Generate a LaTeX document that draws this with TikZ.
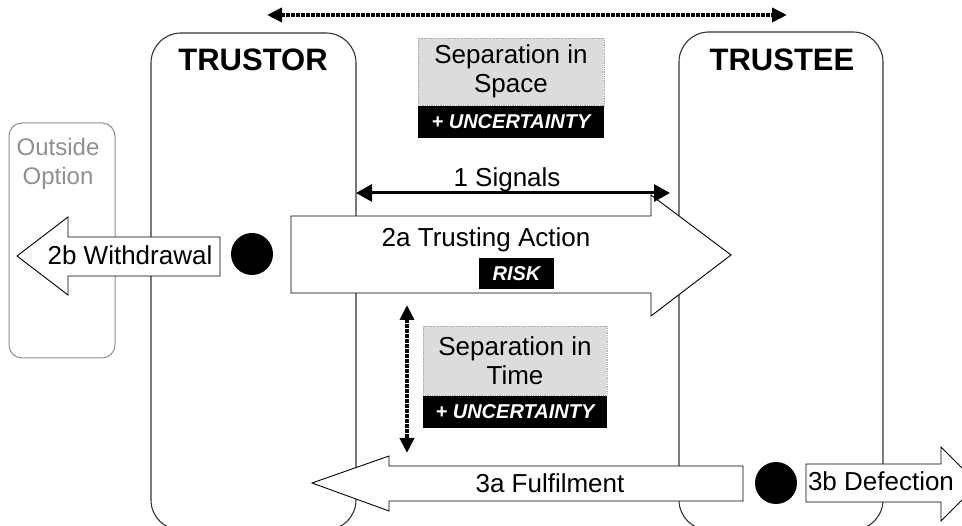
\documentclass[tikz,border=0pt]{standalone}
\usepackage{fontspec}
\setmainfont{Liberation Sans}
\usetikzlibrary{arrows.meta}

\definecolor{sepgray}{HTML}{DCDCDC}
\definecolor{optgray}{HTML}{8F8F8F}

\begin{document}
\begin{tikzpicture}[x=1pt, y=-1pt,
  party/.style={draw=black!80, line width=1.1pt, rounded corners=30pt},
  bigarrow/.style={draw=black, fill=white, line width=0.9pt, line join=miter},
  sepbox/.style={draw=black!35, densely dotted, fill=sepgray, line width=0.8pt,
    inner sep=0pt, align=center, font={\fontsize{26}{29}\selectfont}},
  tagbox/.style={fill=black, text=white, inner sep=0pt,
    font={\fontsize{20}{20}\selectfont\bfseries\itshape}},
  lbl/.style={inner sep=0pt, font={\fontsize{26}{29}\selectfont}},
  headlbl/.style={inner sep=0pt, font={\fontsize{31}{31}\selectfont\bfseries}},
  gap/.style={line width=4pt, dash pattern=on 3.5pt off 1.5pt,
    {Triangle[length=15pt,width=14pt]}-{Triangle[length=15pt,width=14pt]}},
  choice/.style={circle, fill=black, inner sep=0pt, minimum size=42pt}
]

\useasboundingbox (0,0) rectangle (962,526);
\clip (0,0) rectangle (962,526);

% the two parties and the outside option
\draw[draw=optgray, line width=1pt, rounded corners=13pt] (9,123) rectangle (115,358);
\draw[party] (151,33) rectangle (356,530);
\draw[party] (679,32) rectangle (883,530);

\node[headlbl] (trustor) at (253,60) {TRUSTOR};
\node[headlbl] (trustee) at (782,60) {TRUSTEE};
\node[lbl, text=optgray, align=center, font={\fontsize{24}{29}\selectfont}] (outside)
  at (58,163.5) {Outside\\Option};

% separation in space
\coordinate (spaceL) at (267,15);
\coordinate (spaceR) at (787,15);
\draw[gap] (spaceL) -- (spaceR);

\node[sepbox, minimum width=186pt, minimum height=67pt] (space) at (511,71.5) {Separation in\\Space};
\node[tagbox, minimum width=186pt, minimum height=32pt, anchor=north] (spaceunc)
  at (space.south) {+ UNCERTAINTY};

% trusting action and withdrawal
\draw[bigarrow] (291,216) -- (651,216) -- (651,195) -- (731,255) -- (651,316)
  -- (651,293) -- (291,293) -- cycle;
\draw[bigarrow] (17,256) -- (68,217) -- (68,237) -- (220,237) -- (220,276)
  -- (68,276) -- (68,295) -- cycle;

\node[lbl, anchor=base] (trusting) at (486,247) {2a Trusting Action};
\node[tagbox, minimum width=75pt, minimum height=31pt] (risk) at (516.5,273.5) {RISK};
\node[lbl, anchor=base] (withdrawal) at (130,265) {2b Withdrawal};
\node[choice] (move1) at (252,254) {};

% signals
\coordinate (sigL) at (356,193);
\coordinate (sigR) at (670,193);
\draw[line width=3pt, {Triangle[length=16pt,width=17pt]}-{Triangle[length=16pt,width=17pt]}]
  (sigL) -- (sigR);
\node[lbl, anchor=base] (signals) at (507,187) {1 Signals};

% separation in time
\coordinate (timeT) at (407,305);
\coordinate (timeB) at (407,453);
\draw[gap] (timeT) -- (timeB);

\node[sepbox, minimum width=184pt, minimum height=69pt] (time) at (515,360.5) {Separation in\\Time};
\node[tagbox, minimum width=184pt, minimum height=32pt, anchor=north] (timeunc)
  at (time.south) {+ UNCERTAINTY};

% fulfilment and defection
\draw[bigarrow] (312,483) -- (389,456) -- (389,466) -- (743,466) -- (743,501)
  -- (389,501) -- (389,511) -- cycle;
\draw[bigarrow] (806,464) -- (941,464) -- (941,447) -- (978,484) -- (941,521)
  -- (941,502) -- (806,502) -- cycle;

\node[lbl, anchor=base] (fulfil) at (550,493) {3a Fulfilment};
\node[lbl, anchor=base] (defect) at (881,491) {3b Defection};
\node[choice] (move2) at (776,483) {};

\end{tikzpicture}
\end{document}
